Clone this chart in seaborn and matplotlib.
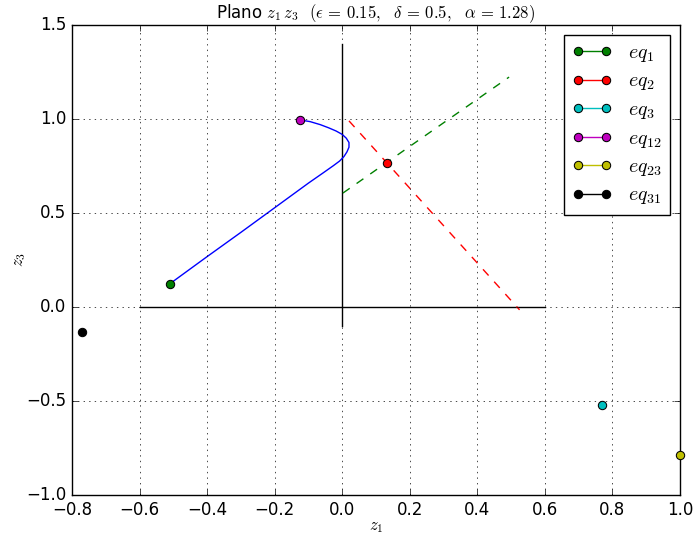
import matplotlib
matplotlib.use("Agg")
import matplotlib.pyplot as plt
import seaborn as sns
import pandas as pd

plt.style.use("classic")

# Trajectory (blue curve)
traj_x = [-0.510, -0.400, -0.300, -0.200, -0.100, -0.056, -0.026, -0.008,
          0.005, 0.014, 0.020, 0.020, 0.012, 0.000, -0.018, -0.040, -0.065,
          -0.095, -0.125]
traj_y = [0.124, 0.268, 0.397, 0.528, 0.659, 0.714, 0.752, 0.776,
          0.800, 0.825, 0.850, 0.875, 0.898, 0.918, 0.936, 0.953, 0.970,
          0.986, 0.995]

# Axis reference lines
hline_x = [-0.6, 0.6]
hline_y = [0.0, 0.0]
vline_x = [0.0, 0.0]
vline_y = [-0.1, 1.4]

# Dashed lines
red_x = [0.02, 0.525]
red_y = [0.99, -0.015]
green_x = [0.002, 0.494]
green_y = [0.606, 1.223]

# Equilibrium points
eq_labels = [r"$eq_1$", r"$eq_2$", r"$eq_3$", r"$eq_{12}$", r"$eq_{23}$", r"$eq_{31}$"]
eq_x = [-0.510, 0.133, 0.770, -0.125, 1.0, -0.771]
eq_y = [0.124, 0.766, -0.522, 0.995, -0.785, -0.133]
eq_colors = ["g", "r", "c", "m", "y", "k"]

fig = plt.figure(figsize=(6.94, 5.43), dpi=100)
ax = fig.add_axes([72/694, 1-495/543, (680-72)/694, (495-25)/543])

sns.lineplot(data=pd.DataFrame({"x": hline_x, "y": hline_y}), x="x", y="y",
             color="k", lw=1, sort=False, estimator=None, ax=ax)
sns.lineplot(data=pd.DataFrame({"x": vline_x, "y": vline_y}), x="x", y="y",
             color="k", lw=1, sort=False, estimator=None, ax=ax)
sns.lineplot(data=pd.DataFrame({"x": traj_x, "y": traj_y}), x="x", y="y",
             color="b", lw=1, sort=False, estimator=None, ax=ax)
sns.lineplot(data=pd.DataFrame({"x": red_x, "y": red_y}), x="x", y="y",
             color="r", lw=1, linestyle="--", sort=False, estimator=None, ax=ax)
sns.lineplot(data=pd.DataFrame({"x": green_x, "y": green_y}), x="x", y="y",
             color="g", lw=1, linestyle="--", sort=False, estimator=None, ax=ax)

for lab, xx, yy, c in zip(eq_labels, eq_x, eq_y, eq_colors):
    sns.lineplot(x=[xx], y=[yy], color=c, marker="o", markersize=6,
                 markeredgecolor="k", markeredgewidth=0.75, lw=1,
                 label=lab, estimator=None, ax=ax, clip_on=False, zorder=5)

ax.set_xlim(-0.8, 1.0)
ax.set_ylim(-1.0, 1.5)
ax.set_xticks([-0.8, -0.6, -0.4, -0.2, 0.0, 0.2, 0.4, 0.6, 0.8, 1.0])
ax.set_yticks([-1.0, -0.5, 0.0, 0.5, 1.0, 1.5])
ax.grid(True)
ax.set_xlabel(r"$z_1$", labelpad=-1)
ax.set_ylabel(r"$z_3$", labelpad=-1)
ax.set_title(r"Plano $z_1\,z_3$  $(\epsilon\,=\,0.15,$  $\delta\,=\,0.5,$  $\alpha\,=\,1.28)$",
             fontsize=12)
ax.legend(loc="upper right", numpoints=2, fontsize=14.4, labelspacing=0.375)

fig.savefig("out.png", dpi=100)
